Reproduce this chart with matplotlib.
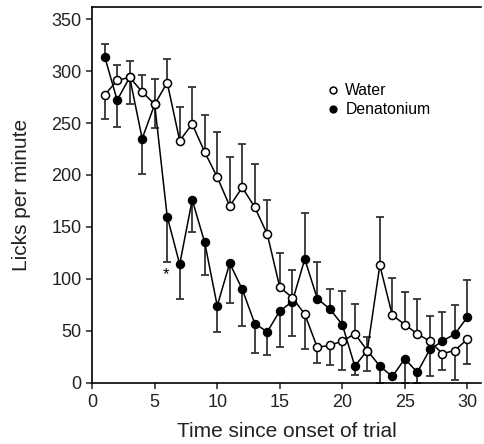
import numpy as np
import matplotlib.pyplot as plt

plt.rcParams['font.family'] = ['Liberation Sans', 'DejaVu Sans']

# time bins (minutes since onset of trial)
time = np.arange(1, 31)

water = [277, 291, 294, 280, 268, 289, 233, 249, 222, 198,
         170, 188, 169, 143, 92, 82, 66, 34, 36, 40,
         47, 31, 113, 65, 56, 47, 40, 28, 31, 42]
water_err = [23, 15, 16, 16, 24, 23, 32, 36, 36, 43,
             47, 42, 42, 33, 33, 27, 34, 15, 19, 28,
             29, 13, 47, 36, 31, 34, 24, 16, 28, 24]
# +1 = bar drawn upward, -1 = downward
water_dir = [-1, 1, 1, 1, 1, 1, 1, 1, 1, 1,
             1, 1, 1, 1, 1, 1, -1, -1, -1, -1,
             1, 1, 1, 1, 1, 1, 1, -1, -1, -1]

denat = [314, 272, 294, 235, 268, 160, 114, 176, 135, 74,
         115, 90, 57, 49, 69, 78, 119, 81, 71, 56,
         16, 31, 16, 6, 23, 10, 32, 40, 47, 63]
denat_err = [12, 26, 26, 34, 23, 44, 33, 31, 31, 25,
             38, 35, 28, 22, 35, 33, 44, 35, 19, 32,
             9, 20, 16, 0, 23, 10, 26, 28, 28, 36]
denat_dir = [1, -1, -1, -1, -1, -1, -1, -1, -1, -1,
             -1, -1, -1, -1, -1, -1, 1, 1, 1, 1,
             -1, -1, -1, -1, -1, -1, -1, 1, 1, 1]


def split_err(err, direction):
    err = np.array(err, dtype=float)
    d = np.array(direction)
    lower = np.where(d < 0, err, 0)
    upper = np.where(d > 0, err, 0)
    return [lower, upper]


fig = plt.figure(figsize=(4.85, 4.44), dpi=100)
ax = fig.add_axes([0.19, 0.138, 0.802, 0.846])

ebar = dict(ecolor='#333333', elinewidth=1.3, capsize=3, capthick=1.3, linestyle='none')
ax.errorbar(time, denat, yerr=split_err(denat_err, denat_dir), zorder=2, **ebar)
ax.errorbar(time, water, yerr=split_err(water_err, water_dir), zorder=2, **ebar)

ax.plot(time, denat, '-o', color='black', lw=1.1, ms=5.8, mfc='black', mec='black',
        label='Denatonium', zorder=3)
ax.plot(time, water, '-o', color='black', lw=1.1, ms=5.8, mfc='white', mec='black',
        mew=1.1, label='Water', zorder=4)

ax.text(5.9, 104, '*', ha='center', va='center', fontsize=12)

ax.set_xlim(0, 31.1)
ax.set_ylim(0, 361.6)
ax.set_xticks(range(0, 31, 5))
ax.set_yticks(range(0, 351, 50))
ax.spines['right'].set_visible(False)
for s in ax.spines.values():
    s.set_linewidth(1.2)
ax.tick_params(direction='out', length=4, width=1.1, labelsize=13, colors='#222222')
ax.tick_params(axis='x', pad=4)
ax.set_xlabel('Time since onset of trial', fontsize=15, color='#222222', labelpad=8)
ax.set_ylabel('Licks per minute', fontsize=15, color='#222222', labelpad=15)

h, l = ax.get_legend_handles_labels()
ax.legend(h[::-1], l[::-1], loc='upper left', bbox_to_anchor=(0.57, 0.835),
          frameon=False, fontsize=11.3, markerscale=0.85, handlelength=0.6,
          handletextpad=0.5, labelspacing=0.25)
leg = ax.get_legend()
for line in leg.get_lines():
    line.set_linestyle('none')

fig.savefig('out.png', dpi=100)
